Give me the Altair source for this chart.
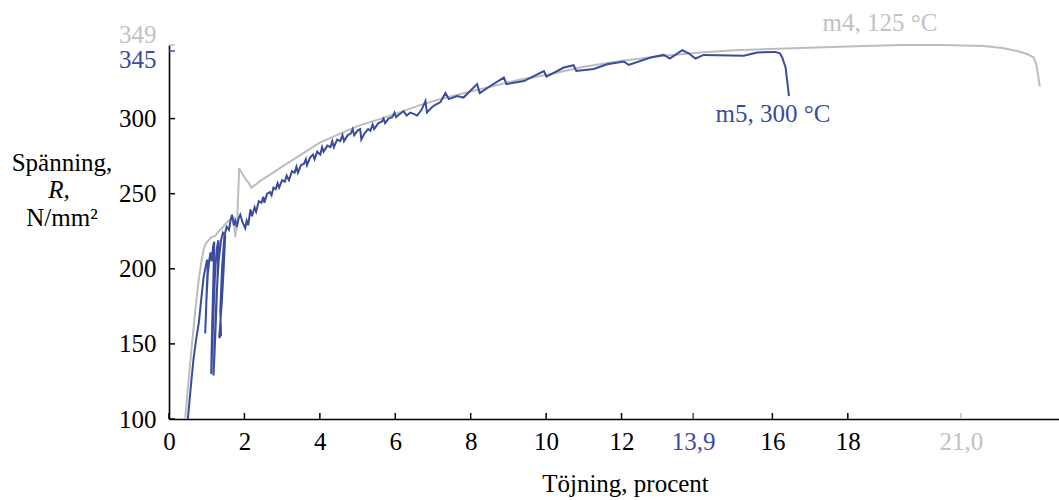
import altair as alt
import pandas as pd

# m4, 125 °C (gray curve): strain (%) and stress (N/mm2)
m4_strain = [0.43, 0.52, 0.61, 0.70, 0.79, 0.86, 0.92, 0.98, 1.05, 1.12, 1.23, 1.32, 1.40, 1.50, 1.58,
             1.66, 1.72, 1.74, 1.76, 1.78, 1.80, 1.83, 1.86, 1.90, 1.95, 2.05, 2.12, 2.18, 2.24, 2.32,
             2.42, 2.70, 3.00, 3.50, 4.00, 4.54, 5.00, 5.87, 6.66, 7.20, 8.00, 9.32, 10.00, 11.00,
             11.97, 13.00, 14.10, 15.00, 16.75, 18.00, 19.40, 20.50, 21.60, 22.10, 22.49, 22.75,
             22.93, 23.00, 23.05, 23.09]
m4_stress = [100, 126, 150, 173, 193, 205, 213, 217, 219, 221, 222, 225, 227, 230, 232,
             233, 234, 226, 221, 229, 226, 246, 267, 265, 263, 259, 257, 254, 255, 256.5,
             258.5, 263, 268, 276, 284, 290, 295, 302, 309, 313, 318, 326, 329, 334.5,
             338.4, 341.5, 344, 345.5, 347, 348, 349, 349, 348.4, 347, 345, 343,
             340.7, 336, 328, 321.3]

# m5, 300 °C (blue curve): strain (%) and stress (N/mm2)
m5_strain = [0.50, 0.58, 0.65, 0.72, 0.79, 0.86, 0.92, 0.97, 1.01, 1.03, 1.00, 0.98, 0.96, 0.99, 1.03,
             1.07, 1.10, 1.13, 1.17, 1.20, 1.18, 1.15, 1.13, 1.12, 1.15, 1.19, 1.23, 1.27, 1.31,
             1.29, 1.25, 1.21, 1.18, 1.21, 1.26, 1.32, 1.38, 1.43, 1.49, 1.45, 1.40, 1.35, 1.33,
             1.38, 1.36, 1.41, 1.47, 1.53, 1.59, 1.63, 1.67, 1.72, 1.76, 1.80, 1.85, 1.89, 1.95,
             2.02, 2.06, 2.10, 2.16, 2.20, 2.27, 2.31, 2.38, 2.45, 2.50, 2.53, 2.60, 2.68, 2.72,
             2.77, 2.83, 2.88, 2.92, 3.00, 3.07, 3.12, 3.18, 3.26, 3.33, 3.38, 3.42, 3.50, 3.58,
             3.63, 3.66, 3.74, 3.82, 3.86, 3.93, 4.01, 4.06, 4.10, 4.20, 4.28, 4.33, 4.37, 4.46,
             4.54, 4.60, 4.64, 4.74, 4.82, 4.87, 4.91, 5.00, 5.07, 5.10, 5.18, 5.28, 5.34, 5.40,
             5.44, 5.55, 5.64, 5.69, 5.73, 5.82, 5.92, 5.98, 6.02, 6.12, 6.22, 6.30, 6.40, 6.50,
             6.58, 6.70, 6.80, 6.84, 6.95, 7.05, 7.20,
             7.33, 7.42, 7.64, 7.81, 8.17, 8.24, 8.52, 8.88, 8.95, 9.41, 9.94, 10.01, 10.47, 10.73,
             10.80, 11.26, 11.62, 12.06, 12.19, 12.77, 13.12, 13.28, 13.61, 13.78, 13.96, 14.18,
             15.24, 15.60, 16.08, 16.20, 16.26, 16.35, 16.44]
m5_stress = [100, 122, 140, 153, 164, 181, 195, 201, 206, 203, 185, 170, 157, 178, 197,
             206, 211, 205, 215, 218, 196, 168, 145, 130, 150, 178, 202, 214, 219,
             198, 170, 145, 129, 150, 182, 206, 219, 224, 222, 200, 178, 160, 154,
             156, 172, 202, 222, 228, 226, 232, 236, 229, 232, 228, 234, 236, 231,
             227, 232, 229, 239.5, 235, 241, 238, 245, 244, 248, 244, 250, 251, 249,
             254, 253, 257, 254, 259, 258, 262, 259, 265, 264, 268, 264, 269, 270,
             273, 269, 274, 276, 273, 278, 276, 281, 278, 282, 281, 285, 281, 286,
             285, 289, 285, 289, 290, 293, 289, 292, 293, 286, 290, 293, 292, 296,
             293, 297, 298, 300, 297, 300, 301, 304, 301, 303, 305, 302, 304, 303,
             302, 306, 311.7, 304, 307, 309, 311,
             317, 313, 315, 314, 323, 317, 321.7, 327.3, 323, 325, 331.7, 328, 334, 335.5,
             331.7, 333, 336.2, 338, 335.7, 340.7, 342.4, 340, 345.5, 343.5, 340, 342.4,
             341.8, 344, 344.4, 343.5, 340.7, 334, 315]

x_ticks = [0, 2, 4, 6, 8, 10, 12, 13.9, 16, 18, 21]
y_ticks = [100, 150, 200, 250, 300, 345, 349]

BLUE = "#3a4c9e"
GRAY = "#bdbdbd"
TEXTGRAY = "#c2c2c2"
FONT = "Liberation Serif"
FS = 25
W, H = 890, 374

df4 = pd.DataFrame({"x": m4_strain, "y": m4_stress, "o": list(range(len(m4_strain)))})
df5 = pd.DataFrame({"x": m5_strain, "y": m5_stress, "o": list(range(len(m5_strain)))})

xscale = alt.Scale(domain=[0, 23.6], nice=False, zero=False)
yscale = alt.Scale(domain=[100, 349], nice=False, zero=False)

x_axis = alt.Axis(
    values=x_ticks, ticks=False, grid=False, domainColor="black", domainWidth=1.6,
    labelFont=FONT, labelFontSize=FS, labelPadding=10, labelOverlap=False, labelFlush=False,
    labelColor={"condition": [{"test": "datum.value == 13.9", "value": BLUE},
                              {"test": "datum.value == 21", "value": TEXTGRAY}], "value": "black"},
    labelExpr="datum.value == 13.9 ? '13,9' : datum.value == 21 ? '21,0' : datum.label",
    title="Töjning, procent", titleFont=FONT, titleFontSize=FS, titleFontWeight="normal",
    titleColor="black", titlePadding=17, titleX=456,
)
y_axis = alt.Axis(
    values=y_ticks, ticks=False, grid=False, domainColor="black", domainWidth=1.6,
    labelFont=FONT, labelFontSize=FS, labelPadding=13, labelOverlap=False, labelFlush=False,
    labelColor={"condition": [{"test": "datum.value == 345", "value": BLUE},
                              {"test": "datum.value == 349", "value": TEXTGRAY}], "value": "black"},
    labelOffset={"condition": [{"test": "datum.value == 345", "value": 8},
                               {"test": "datum.value == 349", "value": -11}], "value": 0},
    title=None,
)

base4 = alt.Chart(df4).mark_line(color=GRAY, strokeWidth=2).encode(
    x=alt.X("x:Q", scale=xscale, axis=x_axis),
    y=alt.Y("y:Q", scale=yscale, axis=y_axis),
    order="o:Q",
)
base5 = alt.Chart(df5).mark_line(color=BLUE, strokeWidth=2).encode(
    x=alt.X("x:Q", scale=xscale),
    y=alt.Y("y:Q", scale=yscale),
    order="o:Q",
)

color_expr = "datum.v == 13.9 || datum.v == 345 ? '%s' : (datum.v == 21 || datum.v == 349 ? '%s' : 'black')" % (BLUE, GRAY)

xt = alt.Chart(pd.DataFrame({"v": x_ticks})).transform_calculate(c=color_expr).mark_rule(strokeWidth=1.5).encode(
    x=alt.X("v:Q", scale=xscale),
    y=alt.value(H), y2=alt.value(H - 6),
    color=alt.Color("c:N", scale=None),
)
yt = alt.Chart(pd.DataFrame({"v": y_ticks})).transform_calculate(c=color_expr).mark_rule(strokeWidth=1.5).encode(
    y=alt.Y("v:Q", scale=yscale),
    x=alt.value(0), x2=alt.value(6),
    color=alt.Color("c:N", scale=None),
)

one = pd.DataFrame({"k": [0]})
lab4 = alt.Chart(one).mark_text(text="m4, 125 °C", font=FONT, fontSize=FS, color=TEXTGRAY,
                                align="center", baseline="middle").encode(x=alt.value(711), y=alt.value(-22))
lab5 = alt.Chart(one).mark_text(text="m5, 300 °C", font=FONT, fontSize=FS, color=BLUE,
                                align="center", baseline="middle").encode(x=alt.value(604), y=alt.value(69))
t1 = alt.Chart(one).mark_text(text="Spänning,", font=FONT, fontSize=FS, color="black",
                              align="center", baseline="middle").encode(x=alt.value(-107), y=alt.value(118))
t2 = alt.Chart(one).mark_text(text="R,", font=FONT, fontSize=FS, fontStyle="italic", color="black",
                              align="center", baseline="middle").encode(x=alt.value(-110), y=alt.value(145))
t3 = alt.Chart(one).mark_text(text="N/mm²", font=FONT, fontSize=FS, color="black",
                              align="center", baseline="middle").encode(x=alt.value(-107), y=alt.value(173))

chart = alt.layer(base4, base5, xt, yt, lab4, lab5, t1, t2, t3).properties(
    width=W, height=H,
    autosize=alt.AutoSizeParams(type="none"),
    padding={"left": 169, "top": 45, "right": 0, "bottom": 81},
).configure_view(strokeWidth=0)

chart.save("out.html", embed_options={"renderer": "svg", "actions": False})
